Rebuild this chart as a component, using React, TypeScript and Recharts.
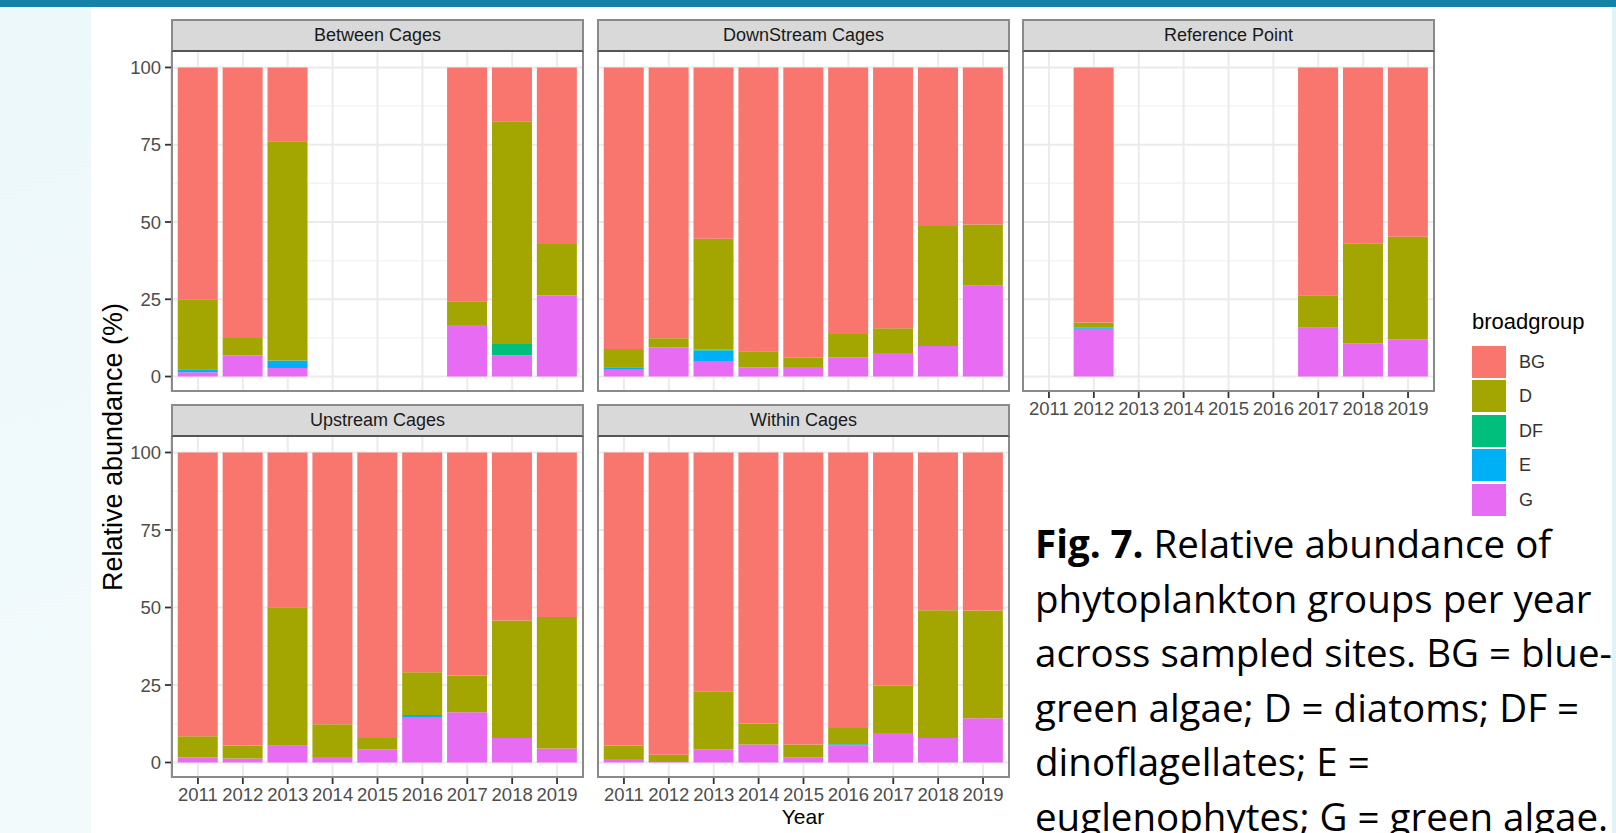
import { Bar, BarChart, CartesianGrid, XAxis, YAxis } from "recharts";

const YEARS = ["2011", "2012", "2013", "2014", "2015", "2016", "2017", "2018", "2019"];
const GROUPS = ["BG", "D", "DF", "E", "G"];
// ggplot stacks the first level on top, so draw bottom-up
const STACK_ORDER = ["G", "E", "DF", "D", "BG"];
const GROUP_COLORS: Record<string, string> = {
  BG: "#F8766D",
  D: "#A3A500",
  DF: "#00BF7D",
  E: "#00B0F6",
  G: "#E76BF3",
};
const Y_TICKS = [0, 25, 50, 75, 100];
const Y_MINOR = [12.5, 37.5, 62.5, 87.5];

// relative abundance (%) per year, null = not sampled
const BETWEEN: Record<string, (number | null)[]> = {
  BG: [75.0, 87.5, 23.9, null, null, null, 75.6, 17.4, 57.1],
  D: [22.6, 5.7, 70.9, null, null, null, 7.7, 72.1, 16.7],
  DF: [0, 0, 0, null, null, null, 0, 3.7, 0],
  E: [1.0, 0, 2.4, null, null, null, 0, 0, 0],
  G: [1.4, 6.8, 2.8, null, null, null, 16.7, 6.8, 26.2],
};
const DOWNSTREAM: Record<string, (number | null)[]> = {
  BG: [91.1, 87.6, 55.4, 91.8, 93.9, 86.2, 84.4, 51.3, 50.8],
  D: [5.9, 3.0, 35.9, 5.3, 3.0, 7.6, 8.0, 38.8, 19.8],
  DF: [0, 0, 0.3, 0, 0, 0, 0, 0, 0],
  E: [0.8, 0, 3.6, 0, 0, 0, 0, 0, 0],
  G: [2.2, 9.4, 4.8, 2.9, 3.1, 6.2, 7.6, 9.9, 29.4],
};
const REFERENCE: Record<string, (number | null)[]> = {
  BG: [null, 82.5, null, null, null, null, 73.7, 56.9, 54.8],
  D: [null, 1.7, null, null, null, null, 10.5, 32.3, 33.1],
  DF: [null, 0, null, null, null, null, 0, 0, 0],
  E: [null, 0.3, null, null, null, null, 0, 0, 0],
  G: [null, 15.5, null, null, null, null, 15.8, 10.8, 12.1],
};
const UPSTREAM: Record<string, (number | null)[]> = {
  BG: [91.5, 94.5, 49.9, 87.7, 92.1, 70.9, 71.9, 54.2, 53.1],
  D: [6.9, 4.2, 44.7, 10.5, 3.7, 13.8, 11.9, 37.9, 42.4],
  DF: [0, 0, 0, 0, 0, 0, 0, 0, 0],
  E: [0, 0, 0, 0, 0, 0.6, 0, 0, 0],
  G: [1.6, 1.3, 5.4, 1.8, 4.2, 14.7, 16.2, 7.9, 4.5],
};
const WITHIN: Record<string, (number | null)[]> = {
  BG: [94.5, 97.5, 77.0, 87.4, 94.2, 88.9, 75.2, 50.9, 51.0],
  D: [4.4, 2.3, 18.8, 6.8, 4.1, 5.2, 15.3, 41.2, 34.7],
  DF: [0, 0, 0, 0, 0, 0, 0, 0, 0],
  E: [0, 0, 0, 0, 0, 0.3, 0, 0, 0],
  G: [1.1, 0.2, 4.2, 5.8, 1.7, 5.6, 9.5, 7.9, 14.3],
};

const SITES = [
  { name: "Between Cages", values: BETWEEN, col: 0, row: 0 },
  { name: "DownStream Cages", values: DOWNSTREAM, col: 1, row: 0 },
  { name: "Reference Point", values: REFERENCE, col: 2, row: 0 },
  { name: "Upstream Cages", values: UPSTREAM, col: 0, row: 1 },
  { name: "Within Cages", values: WITHIN, col: 1, row: 1 },
];

const CAPTION_LINES = [
  "Relative abundance of",
  "phytoplankton groups per year",
  "across sampled sites. BG = blue-",
  "green algae; D = diatoms; DF =",
  "dinoflagellates; E =",
  "euglenophytes; G = green algae.",
];

const FONT = "'Liberation Sans', Arial, sans-serif";
const PANEL_LEFT = [171, 597, 1022];
const PANEL_TOP = [52, 437];
const PANEL_H = [340, 341];
const PANEL_W = 413;
const STRIP_H = 33;
const Y_AXIS_W = 60;
const X_AXIS_H = 36;

function Panel({ site }: { site: (typeof SITES)[number] }) {
  const showY = site.col === 0;
  const showX = site.row === 1 || site.col === 2;
  const yw = showY ? Y_AXIS_W : 0;
  const xh = showX ? X_AXIS_H : 0;
  const left = PANEL_LEFT[site.col];
  const top = PANEL_TOP[site.row];
  const h = PANEL_H[site.row];

  const data = YEARS.map((year, i) => {
    const row: Record<string, string | number | null> = { year };
    GROUPS.forEach((g) => (row[g] = site.values[g][i]));
    return row;
  });

  const tickStyle = { fill: "#4D4D4D", fontSize: 18.5, fontFamily: FONT };

  return (
    <>
      <div
        style={{
          position: "absolute",
          left,
          top: top - STRIP_H,
          width: PANEL_W,
          height: STRIP_H,
          boxSizing: "border-box",
          background: "#D9D9D9",
          border: "2px solid #8A8A8A",
          borderBottom: "2px solid #555",
          color: "#1A1A1A",
          fontFamily: FONT,
          fontSize: 18,
          lineHeight: `${STRIP_H - 4}px`,
          textAlign: "center",
        }}
      >
        {site.name}
      </div>
      <div style={{ position: "absolute", left: left - yw, top, width: PANEL_W + yw, height: h + xh }}>
        <BarChart
          width={PANEL_W + yw}
          height={h + xh}
          data={data}
          margin={{ top: 0, right: 0, bottom: 0, left: 0 }}
          barCategoryGap="5%"
        >
          <CartesianGrid vertical={false} horizontalValues={Y_MINOR} stroke="#F4F4F4" strokeWidth={1.5} />
          <CartesianGrid horizontalValues={Y_TICKS} stroke="#EBEBEB" strokeWidth={2} />
          <XAxis
            dataKey="year"
            hide={!showX}
            height={X_AXIS_H}
            interval={0}
            padding={{ left: 4.5, right: 4.5 }}
            axisLine={false}
            tickSize={6}
            tickMargin={4}
            tickLine={{ stroke: "#333", strokeWidth: 1.8 }}
            tick={tickStyle}
          />
          <YAxis
            type="number"
            domain={[-5, 105]}
            ticks={Y_TICKS}
            interval={0}
            allowDataOverflow
            hide={!showY}
            width={Y_AXIS_W}
            axisLine={false}
            tickSize={6}
            tickMargin={4}
            tickLine={{ stroke: "#333", strokeWidth: 1.8 }}
            tick={tickStyle}
          />
          {STACK_ORDER.map((g) => (
            <Bar key={g} dataKey={g} stackId="a" fill={GROUP_COLORS[g]} isAnimationActive={false} />
          ))}
        </BarChart>
      </div>
      <div
        style={{
          position: "absolute",
          left,
          top,
          width: PANEL_W,
          height: h,
          boxSizing: "border-box",
          border: "2px solid #8A8A8A",
          borderTop: "none",
          pointerEvents: "none",
        }}
      />
    </>
  );
}

export default function App() {
  return (
    <div
      style={{
        position: "fixed",
        left: 0,
        top: 0,
        width: 1616,
        height: 833,
        overflow: "hidden",
        background: "#ffffff",
        fontFamily: FONT,
      }}
    >
      <div style={{ position: "absolute", left: 0, top: 0, width: 1616, height: 7, background: "#1681A7" }} />
      <div
        style={{
          position: "absolute",
          left: 0,
          top: 7,
          width: 91,
          height: 826,
          background: "linear-gradient(160deg, #ECF8FA, #F3FAFC)",
        }}
      />

      {SITES.map((s) => (
        <Panel key={s.name} site={s} />
      ))}

      <div
        style={{
          position: "absolute",
          left: 113,
          top: 447,
          transform: "translate(-50%, -50%) rotate(-90deg)",
          whiteSpace: "nowrap",
          fontSize: 27,
          color: "#000",
        }}
      >
        Relative abundance (%)
      </div>
      <div
        style={{
          position: "absolute",
          left: 803,
          top: 817,
          transform: "translate(-50%, -50%)",
          fontSize: 21,
          color: "#000",
        }}
      >
        Year
      </div>

      <div style={{ position: "absolute", left: 1472, top: 309, fontSize: 22, color: "#000" }}>broadgroup</div>
      {GROUPS.map((g, i) => (
        <div key={g}>
          <div
            style={{
              position: "absolute",
              left: 1472,
              top: 345.5 + i * 34.5,
              width: 34,
              height: 32,
              background: GROUP_COLORS[g],
            }}
          />
          <div
            style={{
              position: "absolute",
              left: 1519,
              top: 345.5 + i * 34.5,
              height: 32,
              lineHeight: "32px",
              fontSize: 18,
              color: "#333",
            }}
          >
            {g}
          </div>
        </div>
      ))}

      <div
        style={{
          position: "absolute",
          left: 1035,
          top: 516,
          fontFamily: "'Open Sans', Lato, sans-serif",
          fontSize: 38.5,
          lineHeight: "54.6px",
          color: "#000",
          whiteSpace: "nowrap",
        }}
      >
        {CAPTION_LINES.map((line, i) => (
          <div key={i}>
            {i === 0 && <b>Fig. 7. </b>}
            {line}
          </div>
        ))}
      </div>

      <div
        style={{
          position: "absolute",
          left: 1612,
          top: 7,
          width: 4,
          height: 826,
          background: "#E0F3F7",
        }}
      />
    </div>
  );
}
